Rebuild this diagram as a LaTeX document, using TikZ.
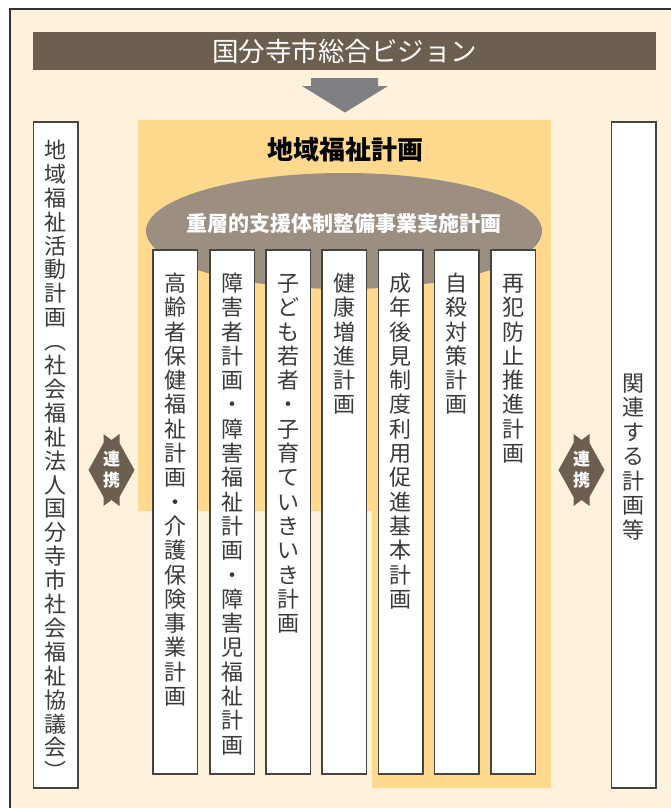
\documentclass[tikz,border=0pt]{standalone}
\usepackage{fontspec}
\setmainfont{Noto Sans CJK JP}
\usetikzlibrary{shapes.geometric}
\definecolor{bgc}{HTML}{FEF2DD}
\definecolor{framec}{HTML}{333333}
\definecolor{titlec}{HTML}{6D5F50}
\definecolor{arrowc}{HTML}{7F8083}
\definecolor{yellowc}{HTML}{FFD98E}
\definecolor{ellc}{HTML}{9D8E82}
\definecolor{boxc}{HTML}{444444}
\definecolor{textc}{HTML}{3A3A3A}
\definecolor{linkc}{HTML}{6D5F50}
\makeatletter
\newcommand\vtext[2]{\vtop{\baselineskip=#1\lineskiplimit=-100pt\lineskip=0pt
  \@tfor\vt@c:=#2\do{\hbox to 1em{\hss\vt@c\hss}}}}
\makeatother
\tikzset{
  planbox/.style={draw=boxc, line width=1.5pt, fill=white, inner sep=0,
    minimum width=44.5pt, anchor=north},
  vtxt/.style={inner sep=0, anchor=base, text=textc,
    font=\fontsize{22}{22}\selectfont},
  linktxt/.style={inner sep=0, anchor=base, text=white,
    font=\bfseries\fontsize{17}{17}\selectfont},
}
\newcommand\linkshape[1]{%
  \fill[linkc, shift={#1}] (-23,0) -- (-8,-27) -- (-8,-36) -- (0,-30)
    -- (8,-36) -- (8,-27) -- (23,0) -- (8,27) -- (8,36) -- (0,30)
    -- (-8,36) -- (-8,27) -- cycle;}
\begin{document}
\begin{tikzpicture}[x=1pt,y=-1pt]
\useasboundingbox (0,0) rectangle (671,808);
\fill[white] (0,0) rectangle (671,808);
\begin{scope}
  \clip (0,0) rectangle (671,808);
  \draw[framec, line width=2pt, fill=bgc] (10,9) rectangle (700,850);
\end{scope}
% title bar
\node (vision) [fill=titlec, text=white, minimum width=623pt, minimum height=38pt,
  inner sep=0, font=\fontsize{26.5}{26.5}\selectfont] at (344.5,51) {国分寺市総合ビジョン};
% arrow
\fill[arrowc] (311,78) -- (378,78) -- (378,86) -- (388,86) -- (345,112.5)
  -- (302,86) -- (311,86) -- cycle;
% yellow region
\fill[yellowc] (138,120) -- (551,120) -- (551,788) -- (372,788) -- (372,511)
  -- (138,511) -- cycle;
\node (plan) [inner sep=0, text=black, font=\bfseries\fontsize{26}{26}\selectfont]
  at (345,150) {地域福祉計画};
% ellipse
\node (tiered) [ellipse, fill=ellc, minimum width=396pt, minimum height=116pt,
  inner sep=0] at (344,231) {};
\node (tieredlabel) [inner sep=0, text=white, font=\bfseries\fontsize{21}{21}\selectfont]
  at (344,224) {重層的支援体制整備事業実施計画};
% side boxes
\node (left) [planbox, minimum height=666pt] at (55.5,121) {};
\node (right) [planbox, minimum height=666pt] at (633.5,121) {};
\node (lefttext) [vtxt] at (55.5,158.4) {\vtext{23.9pt}{地域福祉活動計画︵社会福祉法人国分寺市社会福祉協議会︶}};
\node (righttext) [vtxt] at (633.5,391.4) {\vtext{24.5pt}{関連する計画等}};
% inner boxes
\node (b1) [planbox, minimum height=524pt] at (175,249) {};
\node (b2) [planbox, minimum height=524pt] at (232,249) {};
\node (b3) [planbox, minimum height=524pt] at (288,249) {};
\node (b4) [planbox, minimum height=524pt] at (344,249) {};
\node (b5) [planbox, minimum height=524pt] at (400.5,249) {};
\node (b6) [planbox, minimum height=524pt] at (456.5,249) {};
\node (b7) [planbox, minimum height=524pt] at (513,249) {};
\node (t1) [vtxt] at (175,291.4) {\vtext{24.3pt}{高齢者保健福祉計画・介護保険事業計画}};
\node (t2) [vtxt] at (232,291.4) {\vtext{24.3pt}{障害者計画・障害福祉計画・障害児福祉計画}};
\node (t3) [vtxt] at (288,291.4) {\vtext{24.3pt}{子ども若者・子育ていきいき計画}};
\node (t4) [vtxt] at (344,291.4) {\vtext{24.3pt}{健康増進計画}};
\node (t5) [vtxt] at (400.5,291.4) {\vtext{24.3pt}{成年後見制度利用促進基本計画}};
\node (t6) [vtxt] at (456.5,291.4) {\vtext{24.3pt}{自殺対策計画}};
\node (t7) [vtxt] at (513,291.4) {\vtext{24.3pt}{再犯防止推進計画}};
% link shapes
\linkshape{(111.5,470)}
\linkshape{(581.5,470)}
\node (link1) [linktxt] at (111.5,465) {\vtext{21pt}{連携}};
\node (link2) [linktxt] at (581.5,465) {\vtext{21pt}{連携}};
\end{tikzpicture}
\end{document}
